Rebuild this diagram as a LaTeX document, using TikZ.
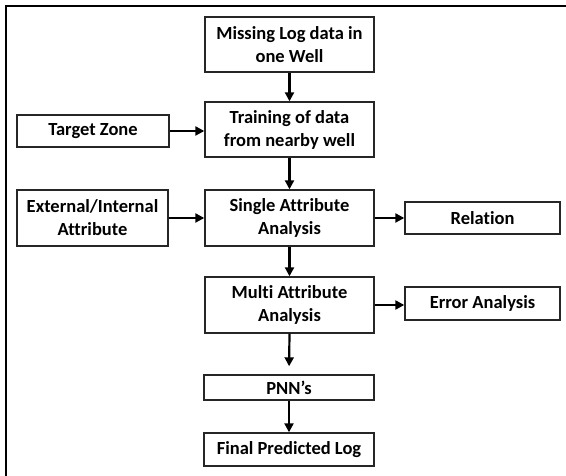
\documentclass[tikz,border=0pt]{standalone}
\usepackage{fontspec}
\setmainfont[Ligatures={NoCommon}]{Carlito}
\usetikzlibrary{arrows.meta,calc}
\begin{document}
\begin{tikzpicture}[x=1pt,y=-1pt,
  box/.style={draw=black!85,line width=1.4pt,fill=white,inner sep=0pt,align=center,
    font=\fontsize{18.5}{23}\selectfont\bfseries},
  arr/.style={line width=2.2pt,-{Triangle[length=9pt,width=9pt]}}]
\useasboundingbox (0,0) rectangle (566,476);
\fill[white] (0,0) rectangle (566,476);
\draw[line width=1.8pt] (6,476) -- (6,6) -- (566,6);
\node[box,minimum width=169pt,minimum height=55pt] (miss) at (289.5,44.5) {Missing Log data in\\one Well};
\node[box,minimum width=169pt,minimum height=55pt] (train) at (289.5,129.5) {Training of data\\from nearby well};
\node[box,minimum width=152pt,minimum height=32pt] (target) at (93,131) {Target Zone};
\node[box,minimum width=151pt,minimum height=56pt] (ext) at (92.5,218) {External/Internal\\Attribute};
\node[box,minimum width=169pt,minimum height=56pt] (single) at (289.5,218) {Single Attribute\\Analysis};
\node[box,minimum width=155pt,minimum height=32pt] (rel) at (482.5,218) {Relation};
\node[box,minimum width=169pt,minimum height=56pt] (multi) at (289.5,305) {Multi Attribute\\Analysis};
\node[box,minimum width=155pt,minimum height=33pt] (err) at (482.5,303.5) {Error Analysis};
\node[box,minimum width=170pt,minimum height=25pt] (pnn) at (289,387.5) {PNN’s};
\node[box,minimum width=170pt,minimum height=33pt] (final) at (289,449.5) {Final Predicted Log};
\draw[arr] (miss.south) -- (train.north);
\draw[arr] (train.south) -- (single.north);
\draw[arr] (single.south) -- (multi.north);
\draw[arr,shorten >=8pt] (multi.south) -- (pnn.north);
\draw[arr] (pnn.south) -- (final.north);
\draw[arr] (target.east) -- (target.east -| train.west);
\draw[arr] (ext.east) -- (single.west);
\draw[arr] (single.east) -- (rel.west);
\draw[arr] (multi.east) -- (multi.east -| err.west);
\end{tikzpicture}
\end{document}
